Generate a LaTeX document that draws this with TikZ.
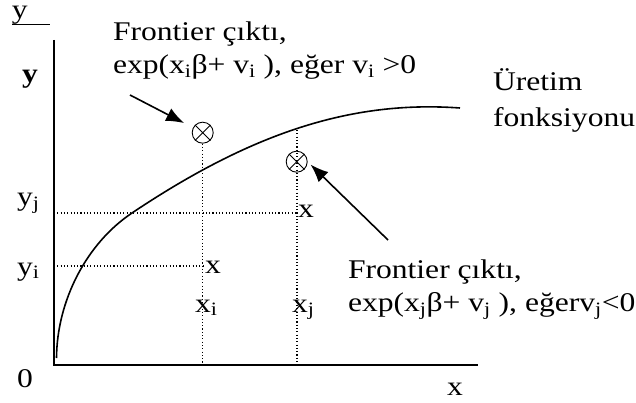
\documentclass[tikz,border=0pt]{standalone}
\usepackage{fontspec}
\setmainfont{Liberation Serif}[FakeStretch=1.17]
\usepackage{tikz}
\usetikzlibrary{arrows.meta, positioning}
\tikzstyle{lbl} = [inner sep=0pt, outer sep=0pt, font=\fontsize{27}{33}\selectfont]
\tikzstyle{axis} = [line width=1.7pt]
\tikzstyle{guide} = [line width=1.2pt, dash pattern=on 1.1pt off 2.2pt]
\tikzstyle{frontier} = [circle, draw, line width=0.9pt, minimum size=21pt, inner sep=0pt]
\tikzstyle{arrow} = [line width=1.6pt, -{Latex[length=18pt, width=14pt]}]

\begin{document}
\begin{tikzpicture}[x=1pt, y=-1pt]
    \useasboundingbox (0,0) rectangle (636,403);

    % axes
    \coordinate (ytop) at (54,40);
    \coordinate (org) at (54,365);
    \coordinate (xend) at (478,365);
    \draw[axis] (ytop) -- (org) -- (xend);
    \draw[line width=1.5pt] (12,24.5) -- (50,24.5);

    % production function
    \coordinate (f0) at (56.5,358);
    \coordinate (f1) at (132,213);
    \coordinate (f2) at (460,108);
    \draw[line width=1.6pt] (f0) .. controls (57,300) and (87,243) .. (f1)
        .. controls (250,134) and (350,100) .. (f2);

    % frontier outputs
    \node (oi) [frontier] at (202.7,132.7) {};
    \node (oj) [frontier] at (296.7,161.7) {};
    \foreach \c in {oi,oj}
        \draw[line width=0.9pt] (\c.45) -- (\c.225) (\c.135) -- (\c.315);

    % guide lines
    \coordinate (cj) at (297,130);
    \coordinate (xi) at (202.7,365);
    \coordinate (xj) at (297,365);
    \coordinate (yi) at (54,266);
    \coordinate (yj) at (54,213);
    \coordinate (pi) at (202.7,266);
    \coordinate (pj) at (297,213);
    \draw[guide] (oi.south) -- (xi);
    \draw[guide] (cj) -- (xj);
    \draw[guide] (yi) -- (pi);
    \draw[guide] (yj) -- (pj);

    % labels
    \node (ylab) [lbl, anchor=base west] at (12,19) {y};
    \node (ybold) [lbl, anchor=base west] at (22,83) {\textbf{y}};
    \node (yjl) [lbl, anchor=base west] at (17,206) {y\textsubscript{j}};
    \node (yil) [lbl, anchor=base west] at (17,275) {y\textsubscript{i}};
    \node (zero) [lbl, anchor=base west] at (17,387) {0};
    \node (xlab) [lbl, anchor=base] at (455,395) {x};
    \node (mi) [lbl, anchor=base west] at (205,273) {x};
    \node (mj) [lbl, anchor=base west] at (298,218) {x};
    \node (xil) [lbl, anchor=base west] at (195,312) {x\textsubscript{i}};
    \node (xjl) [lbl, anchor=base west] at (292,312) {x\textsubscript{j}};

    \node (topl) [lbl, anchor=north west, align=left] at (113,21.5) {Frontier çıktı,\\exp(x\textsubscript{i}β+ v\textsubscript{i} ), eğer v\textsubscript{i} >0};
    \node (botl) [lbl, anchor=north west, align=left] at (348,259.5) {Frontier çıktı,\\exp(x\textsubscript{j}β+ v\textsubscript{j} ), eğerv\textsubscript{j}<0};
    \node (curvl) [lbl, anchor=north west, align=left, font=\fontsize{27}{36}\selectfont] at (493,68.5) {Üretim\\fonksiyonu};

    % arrows
    \coordinate (ta) at (130,95);
    \coordinate (tb) at (388,240);
    \draw[arrow, shorten >=10pt] (ta) -- (oi);
    \draw[arrow, shorten >=4pt] (tb) -- (oj.east);
\end{tikzpicture}
\end{document}
